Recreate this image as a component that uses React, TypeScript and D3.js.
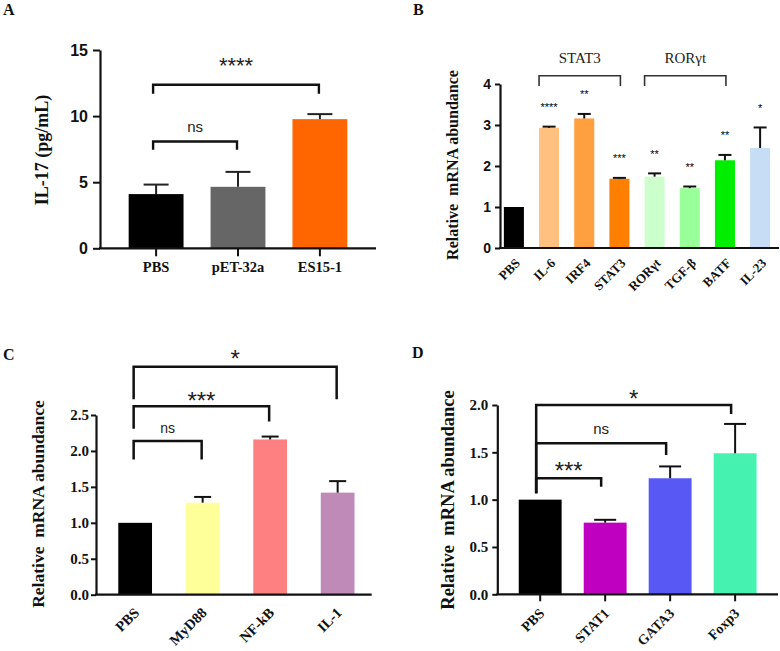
import React, { useEffect, useRef } from "react";
import * as d3 from "d3";

const SERIF = "'Liberation Serif', 'Times New Roman', serif";
const SANS = "'Liberation Sans', Arial, sans-serif";

// panel A - IL-17
const catsA = ["PBS", "pET-32a", "ES15-1"];
const meanA = [4.1, 4.65, 9.77];
const semA = [0.72, 1.13, 0.38];
const ticksA = [0, 5, 10, 15];
const sigA = [
  { a: "PBS", b: "pET-32a", y: 8.08, yl: 7.45, yr: 7.45, text: "ns", ty: 9.1 },
  { a: "PBS", b: "ES15-1", y: 12.37, yl: 11.69, yr: 11.69, text: "****", ty: 14.2 },
];

// panel B - Th17 related genes
const catsB = ["PBS", "IL-6", "IRF4", "STAT3", "RORγt", "TGF-β", "BATF", "IL-23"];
const meanB = [1.0, 2.93, 3.16, 1.69, 1.74, 1.46, 2.14, 2.44];
const semB = [0, 0.03, 0.11, 0.02, 0.08, 0.04, 0.13, 0.5];
const starsB = ["", "****", "**", "***", "**", "**", "**", "*"];
const ticksB = [0, 1, 2, 3, 4];
const groupsB = [
  { a: "IL-6", b: "STAT3", y: 4.2, yl: 3.95, yr: 3.95, text: "STAT3", ty: 4.63 },
  { a: "RORγt", b: "BATF", y: 4.2, yl: 3.95, yr: 3.95, text: "RORγt", ty: 4.63 },
];

// panel C
const catsC = ["PBS", "MyD88", "NF-kB", "IL-1"];
const meanC = [1.0, 1.28, 2.16, 1.42];
const semC = [0, 0.08, 0.04, 0.16];
const ticksC = [0, 0.5, 1, 1.5, 2, 2.5];
const sigC = [
  { a: "PBS", b: "MyD88", y: 2.14, yl: 1.88, yr: 1.88, text: "ns", ty: 2.3 },
  { a: "PBS", b: "NF-kB", y: 2.62, yl: 2.31, yr: 2.41, text: "***", ty: 2.78 },
  { a: "PBS", b: "IL-1", y: 3.17, yl: 2.72, yr: 2.72, text: "*", ty: 3.36 },
];

// panel D
const catsD = ["PBS", "STAT1", "GATA3", "Foxp3"];
const meanD = [1.0, 0.757, 1.226, 1.49];
const semD = [0, 0.03, 0.125, 0.31];
const ticksD = [0, 0.5, 1, 1.5, 2];
const sigD = [
  { a: "PBS", b: "STAT1", y: 1.226, yl: 1.068, yr: 1.137, text: "***", ty: 1.36 },
  { a: "PBS", b: "GATA3", y: 1.596, yl: 1.068, yr: 1.473, text: "ns", ty: 1.737 },
  { a: "PBS", b: "Foxp3", y: 2.0, yl: 1.068, yr: 1.905, text: "*", ty: 2.13 },
];

const panelA = {
  letter: "A", lx: 3, ly: 15,
  cats: catsA, means: meanA, sems: semA,
  colors: ["#000000", "#666666", "#ff6600"],
  ticks: ticksA, fmt: d3.format("d"), tickFont: SANS, tickSize: 16, tickGap: 3,
  left: 100, right: 376, axisEnd: 376, pi: 0.33, po: 0.35,
  top: 50, bottom: 248.3, yMax: 15, tickLen: 7, xTick: 8,
  cap: 25, errColor: "#222",
  title: "IL-17 (pg/mL)", tx: 42, tyy: 150, titleSize: 18,
  xlab: "flat", xlabSize: 14.5, xdx: 0, xdy: 24,
  sig: sigA, sigL: -3, sigR: -1, sigW: 2.4, starSize: 22, nsSize: 15,
};

const panelB = {
  letter: "B", lx: 413, ly: 15,
  cats: catsB, means: meanB, sems: semB,
  colors: ["#000000", "#ffc080", "#ffa040", "#ff8000", "#ccffcc", "#99ff99", "#00ee00", "#c6ddf5"],
  ticks: ticksB, fmt: d3.format("d"), tickFont: SANS, tickSize: 14, tickGap: 2,
  left: 500, right: 774, axisEnd: 779, pi: 0.43, po: 0.11,
  top: 84, bottom: 248, yMax: 4, tickLen: 5, xTick: 0,
  cap: 13, errColor: "#111",
  title: "Relative  mRNA abundance", tx: 452, tyy: 165, titleSize: 16,
  xlab: "rot", xlabSize: 13, xdx: 7, xdy: 16,
  sig: [], sigL: 0, sigR: 0, sigW: 1.6, starSize: 10, nsSize: 15,
};

const panelC = {
  letter: "C", lx: 3, ly: 360,
  cats: catsC, means: meanC, sems: semC,
  colors: ["#000000", "#ffff99", "#ff8080", "#c08ab8"],
  ticks: ticksC, fmt: d3.format(".1f"), tickFont: SERIF, tickSize: 15, tickGap: 0,
  left: 96, right: 376.8, axisEnd: 371.7, pi: 0.5, po: 0.33,
  top: 415, bottom: 594.7, yMax: 2.5, tickLen: 5, xTick: 0,
  cap: 17, errColor: "#111",
  title: "Relative  mRNA abundance", tx: 38, tyy: 504, titleSize: 17.5,
  xlab: "rot", xlabSize: 14.5, xdx: 5, xdy: 19,
  sig: sigC, sigL: -1.5, sigR: -1, sigW: 2.5, starSize: 24, nsSize: 14,
};

const panelD = {
  letter: "D", lx: 412, ly: 358,
  cats: catsD, means: meanD, sems: semD,
  colors: ["#000000", "#c000c0", "#5858f5", "#45f2b0"],
  ticks: ticksD, fmt: d3.format(".1f"), tickFont: SERIF, tickSize: 15, tickGap: 2,
  left: 497.3, right: 778, axisEnd: 778, pi: 0.34, po: 0.33,
  top: 405, bottom: 594.3, yMax: 2, tickLen: 5, xTick: 7,
  cap: 22, errColor: "#111",
  title: "Relative  mRNA abundance", tx: 448, tyy: 500, titleSize: 18.5,
  xlab: "rot", xlabSize: 14, xdx: 5, xdy: 20,
  sig: sigD, sigL: -4, sigR: -4, sigW: 2.5, starSize: 24, nsSize: 15,
};

const drawPanel = (svg: any, p: any) => {
  const g = svg.append("g");
  const x = d3.scaleBand().domain(p.cats).range([p.left, p.right]).paddingInner(p.pi).paddingOuter(p.po);
  const y = d3.scaleLinear().domain([0, p.yMax]).range([p.bottom, p.top]);
  const bw = x.bandwidth();
  const cx = (c: string) => (x(c) as number) + bw / 2;

  // bars
  g.selectAll("rect.bar")
    .data(p.cats)
    .enter()
    .append("rect")
    .attr("x", (d: string) => x(d))
    .attr("y", (d: string, i: number) => y(p.means[i]))
    .attr("width", bw)
    .attr("height", (d: string, i: number) => y(0) - y(p.means[i]))
    .attr("fill", (d: string, i: number) => p.colors[i]);

  // error bars (mean + sem, upper only)
  p.cats.forEach((c: string, i: number) => {
    if (!p.sems[i]) return;
    const yt = y(p.means[i] + p.sems[i]);
    g.append("line").attr("x1", cx(c)).attr("x2", cx(c)).attr("y1", y(p.means[i])).attr("y2", yt)
      .attr("stroke", p.errColor).attr("stroke-width", 2);
    g.append("line").attr("x1", cx(c) - p.cap / 2).attr("x2", cx(c) + p.cap / 2).attr("y1", yt).attr("y2", yt)
      .attr("stroke", p.errColor).attr("stroke-width", 2);
  });

  // y axis
  const ya = g.append("g")
    .attr("transform", `translate(${p.left},0)`)
    .call(d3.axisLeft(y).tickValues(p.ticks).tickSize(p.tickLen).tickSizeOuter(0).tickPadding(p.tickGap + 2).tickFormat(p.fmt));
  ya.select(".domain").attr("stroke", "#111").attr("stroke-width", 2.2);
  ya.selectAll(".tick line").attr("stroke", "#111").attr("stroke-width", 2);
  ya.selectAll(".tick text").attr("font-family", p.tickFont).attr("font-weight", "bold")
    .attr("font-size", p.tickSize).attr("fill", "#111");

  // x axis
  g.append("line").attr("x1", p.left - 1).attr("x2", p.axisEnd).attr("y1", y(0)).attr("y2", y(0))
    .attr("stroke", "#111").attr("stroke-width", 2.2);
  if (p.xTick) {
    p.cats.forEach((c: string) => {
      g.append("line").attr("x1", cx(c)).attr("x2", cx(c)).attr("y1", y(0)).attr("y2", y(0) + p.xTick)
        .attr("stroke", "#111").attr("stroke-width", 2);
    });
  }
  p.cats.forEach((c: string) => {
    const t = g.append("text").text(c).attr("font-family", SERIF).attr("font-weight", "bold")
      .attr("font-size", p.xlabSize).attr("fill", "#111");
    if (p.xlab === "flat") {
      t.attr("x", cx(c)).attr("y", y(0) + p.xdy).attr("text-anchor", "middle");
    } else {
      t.attr("transform", `translate(${cx(c) + p.xdx},${y(0) + p.xdy}) rotate(-45)`).attr("text-anchor", "end");
    }
  });

  // y title
  g.append("text").text(p.title)
    .attr("transform", `translate(${p.tx},${p.tyy}) rotate(-90)`)
    .attr("text-anchor", "middle").attr("dy", "0.35em")
    .attr("font-family", SERIF).attr("font-weight", "bold").attr("font-size", p.titleSize)
    .attr("fill", "#111").style("white-space", "pre");

  // panel letter
  svg.append("text").text(p.letter).attr("x", p.lx).attr("y", p.ly)
    .attr("font-family", SERIF).attr("font-weight", "bold").attr("font-size", 16).attr("fill", "#111");

  // significance brackets
  p.sig.forEach((s: any) => {
    const xa = cx(s.a) + p.sigL;
    const xb = cx(s.b) + p.sigR;
    g.append("path")
      .attr("d", `M${xa},${y(s.yl)}V${y(s.y)}H${xb}V${y(s.yr)}`)
      .attr("fill", "none").attr("stroke", "#111").attr("stroke-width", p.sigW);
    const star = s.text.indexOf("*") >= 0;
    g.append("text").text(s.text)
      .attr("x", (xa + xb) / 2).attr("y", y(s.ty))
      .attr("dy", star ? "0.58em" : "0.26em")
      .attr("text-anchor", "middle").attr("font-family", SANS)
      .attr("font-size", star ? p.starSize : p.nsSize).attr("fill", "#222");
  });

  return { g, x, y, cx };
};

const App = () => {
  const ref = useRef<SVGSVGElement>(null);

  useEffect(() => {
    const svg = d3.select(ref.current);
    svg.selectAll("*").remove();

    drawPanel(svg, panelA);
    const b = drawPanel(svg, panelB);
    drawPanel(svg, panelC);
    drawPanel(svg, panelD);

    // panel B: group brackets and per-bar stars
    groupsB.forEach((s) => {
      const xa = b.cx(s.a) - 10;
      const xb = b.cx(s.b) + 1;
      b.g.append("path")
        .attr("d", `M${xa},${b.y(s.yl)}V${b.y(s.y)}H${xb}V${b.y(s.yr)}`)
        .attr("fill", "none").attr("stroke", "#333").attr("stroke-width", 1.6);
      b.g.append("text").text(s.text)
        .attr("x", (xa + xb) / 2).attr("y", b.y(s.ty)).attr("dy", "0.33em")
        .attr("text-anchor", "middle").attr("font-family", SERIF)
        .attr("font-size", 15).attr("fill", "#222");
    });
    catsB.forEach((c, i) => {
      if (!starsB[i]) return;
      b.g.append("text").text(starsB[i])
        .attr("x", b.cx(c)).attr("y", b.y(meanB[i] + semB[i]) - 22).attr("dy", "0.58em")
        .attr("text-anchor", "middle").attr("font-family", SANS)
        .attr("font-size", 11).attr("fill", "#000");
    });
  }, []);

  return (
    <svg
      ref={ref}
      width={780}
      height={651}
      style={{ position: "absolute", left: 0, top: 0, background: "#fff" }}
    />
  );
};

export default App;
